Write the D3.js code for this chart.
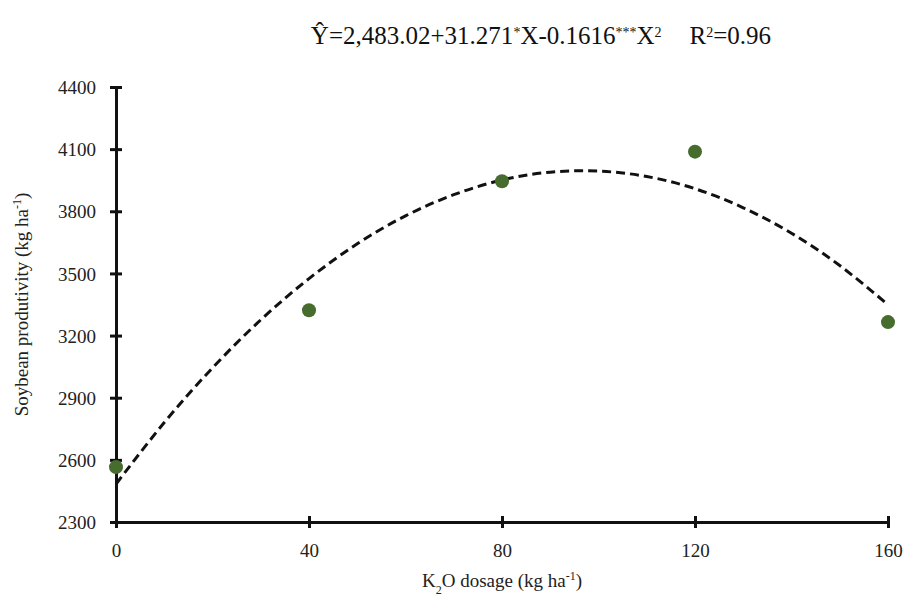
<!DOCTYPE html>
<html>
<head>
<meta charset="utf-8">
<script src="https://cdn.jsdelivr.net/npm/d3@7"></script>
<style>
  body { margin: 0; background: #fff; }
</style>
</head>
<body>
<div id="chart"></div>
<script>
// Observed means (kg ha-1) per K2O dose
const doses  = [0, 40, 80, 120, 160];
const yields = [2565, 3322, 3945, 4088, 3265];

// Fitted trend
const fitX = [0, 10, 20, 30, 40, 50, 60, 70, 80, 90, 100, 110, 120, 130, 140, 150, 160];
const fitY = [2483, 2780, 3044, 3276, 3475, 3643, 3778, 3880, 3951, 3989, 3994, 3968, 3909, 3817, 3694, 3538, 3349];

const xTicks = [0, 40, 80, 120, 160];
const yTicks = [2300, 2600, 2900, 3200, 3500, 3800, 4100, 4400];

const W = 909, H = 598;
const margin = { left: 116, right: 21, top: 87, bottom: 76 };
const FONT = 'Liberation Serif';

const svg = d3.select('#chart').append('svg')
    .attr('width', W)
    .attr('height', H)
    .attr('font-family', FONT);

const x = d3.scaleLinear().domain([0, 160]).range([margin.left, W - margin.right]);
const y = d3.scaleLinear().domain([2300, 4400]).range([H - margin.bottom, margin.top]);

// --- title (regression equation)
const title = svg.append('text')
    .attr('x', 541)
    .attr('y', 44)
    .attr('text-anchor', 'middle')
    .attr('font-family', FONT)
    .attr('font-size', 25)
    .attr('fill', '#111');
title.append('tspan').text('Ŷ=2,483.02+31.271');
title.append('tspan').attr('baseline-shift', 'super').attr('font-size', 14).text('*');
title.append('tspan').text('X-0.1616');
title.append('tspan').attr('baseline-shift', 'super').attr('font-size', 14).text('***');
title.append('tspan').text('X');
title.append('tspan').attr('baseline-shift', 'super').attr('font-size', 14).text('2');
title.append('tspan').attr('dx', 28).text('R');
title.append('tspan').attr('baseline-shift', 'super').attr('font-size', 14).text('2');
title.append('tspan').text('=0.96');

// --- axes
const yAxis = svg.append('g')
    .attr('transform', `translate(${margin.left},0)`)
    .call(d3.axisLeft(y).tickValues(yTicks).tickFormat(d3.format('d')).tickSize(0).tickPadding(20));
const xAxis = svg.append('g')
    .attr('transform', `translate(0,${H - margin.bottom})`)
    .call(d3.axisBottom(x).tickValues(xTicks).tickFormat(d3.format('d')).tickSize(0).tickPadding(22));

[xAxis, yAxis].forEach(g => {
    g.attr('font-family', FONT);
    g.select('.domain').attr('stroke', '#111').attr('stroke-width', 3);
    g.selectAll('text')
        .attr('font-family', FONT)
        .attr('font-size', 19)
        .attr('fill', '#222');
});
yAxis.selectAll('text').attr('dy', '0.35em');

// cross tick marks (Excel style)
yAxis.selectAll('.tick').append('line')
    .attr('x1', -6).attr('x2', 6)
    .attr('stroke', '#111').attr('stroke-width', 3);
xAxis.selectAll('.tick').append('line')
    .attr('y1', -6).attr('y2', 6)
    .attr('stroke', '#111').attr('stroke-width', 3);

// --- axis titles
const yl = svg.append('text')
    .attr('transform', `translate(28,${(margin.top + H - margin.bottom) / 2}) rotate(-90)`)
    .attr('text-anchor', 'middle')
    .attr('font-family', FONT)
    .attr('font-size', 19)
    .attr('fill', '#222');
yl.append('tspan').text('Soybean produtivity (kg ha');
yl.append('tspan').attr('baseline-shift', 'super').attr('font-size', 12).text('-1');
yl.append('tspan').text(')');

const xl = svg.append('text')
    .attr('x', (margin.left + W - margin.right) / 2)
    .attr('y', 587)
    .attr('text-anchor', 'middle')
    .attr('font-family', FONT)
    .attr('font-size', 19)
    .attr('fill', '#222');
xl.append('tspan').text('K');
xl.append('tspan').attr('baseline-shift', 'sub').attr('font-size', 12).text('2');
xl.append('tspan').text('O dosage (kg ha');
xl.append('tspan').attr('baseline-shift', 'super').attr('font-size', 12).text('-1');
xl.append('tspan').text(')');

// --- fitted curve
const line = d3.line()
    .x((d, i) => x(fitX[i]))
    .y(d => y(d))
    .curve(d3.curveNatural);

svg.append('path')
    .datum(fitY)
    .attr('d', line)
    .attr('fill', 'none')
    .attr('stroke', '#111')
    .attr('stroke-width', 3)
    .attr('stroke-dasharray', '9,5');

// --- observed points
svg.selectAll('circle.pt')
    .data(doses)
    .join('circle')
    .attr('class', 'pt')
    .attr('cx', d => x(d))
    .attr('cy', (d, i) => y(yields[i]))
    .attr('r', 7)
    .attr('fill', '#466c2e');
</script>
</body>
</html>
